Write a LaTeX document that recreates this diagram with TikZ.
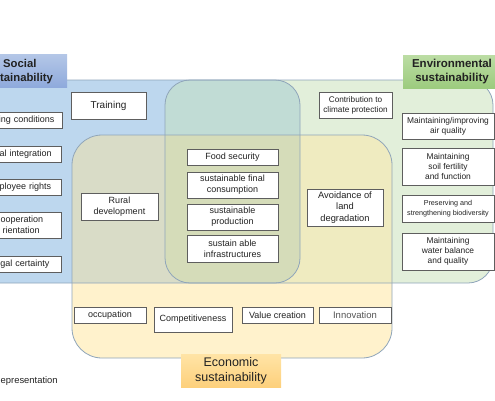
\documentclass[tikz,border=0pt]{standalone}
\usepackage{fontspec}
\setmainfont{Liberation Sans}
\definecolor{cB}{HTML}{BDD7EE}
\definecolor{cG}{HTML}{E2EFDA}
\definecolor{cBG}{HTML}{C1DCD5}
\definecolor{cY}{HTML}{FFF2CC}
\definecolor{cBY}{HTML}{D9DCC7}
\definecolor{cGY}{HTML}{EFEBC0}
\definecolor{cBGY}{HTML}{D5DCB9}
\definecolor{edgec}{HTML}{8FA5BA}
\definecolor{boxc}{HTML}{5E5E5E}
\definecolor{txtc}{HTML}{222222}
\definecolor{innoc}{HTML}{555555}
\definecolor{sTop}{HTML}{B4C7E7}
\definecolor{sBot}{HTML}{8FAADC}
\definecolor{eTop}{HTML}{BCDDA4}
\definecolor{eBot}{HTML}{9CCB7E}
\definecolor{oTop}{HTML}{FFE4A6}
\definecolor{oBot}{HTML}{FDD07C}
\tikzset{
  region/.style={draw=edgec, line width=0.8pt},
  item/.style={draw=boxc, fill=white, line width=0.9pt, inner sep=0pt, align=center,
    text=txtc, font=\fontsize{9}{11}\selectfont},
  leftitem/.style={draw=boxc, fill=white, line width=0.9pt, inner ysep=0pt, anchor=east,
    text width=80pt, align=right, text=txtc, font=\fontsize{9}{11}\selectfont},
  header/.style={inner sep=0pt, text=txtc, align=center},
}
\begin{document}
\begin{tikzpicture}[x=1pt,y=-1pt]
\useasboundingbox (0,0) rectangle (495,400);
\begin{scope}
\clip (0,0) rectangle (495,400);
% ---------- region fills ----------
\fill[cB, rounded corners=25pt] (-40,80) rectangle (300,283);
\fill[cG, rounded corners=25pt] (165,80) rectangle (493,283);
\begin{scope}
  \clip[rounded corners=25pt] (-40,80) rectangle (300,283);
  \fill[cBG, rounded corners=25pt] (165,80) rectangle (493,283);
\end{scope}
\fill[cY, rounded corners=30pt] (72,135) rectangle (392,358);
\begin{scope}
  \clip[rounded corners=30pt] (72,135) rectangle (392,358);
  \fill[cBY, rounded corners=25pt] (-40,80) rectangle (300,283);
  \fill[cGY, rounded corners=25pt] (165,80) rectangle (493,283);
  \clip[rounded corners=25pt] (-40,80) rectangle (300,283);
  \fill[cBGY, rounded corners=25pt] (165,80) rectangle (493,283);
\end{scope}
% ---------- region outlines ----------
\draw[region, rounded corners=25pt] (-40,80) rectangle (300,283);
\draw[region, rounded corners=25pt] (165,80) rectangle (493,283);
\draw[region, rounded corners=30pt] (72,135) rectangle (392,358);

% ---------- headers ----------
\shade[top color=sTop, bottom color=sBot] (-30,54) rectangle (67,87);
\node[header, anchor=north west, align=left, font=\bfseries\fontsize{11.3}{13.7}\selectfont]
  (hsoc) at (0,59) {\hspace*{3pt}Social\\tainability};
\shade[top color=eTop, bottom color=eBot] (403,55) rectangle (497,88);
\node[header, font=\bfseries\fontsize{11.5}{14}\selectfont] (henv) at (452,71.5)
  {Environmental\\sustainability};
\shade[top color=oTop, bottom color=oBot] (181,354) rectangle (281,387);
\node[header, font=\fontsize{12.5}{15}\selectfont] (heco) at (231,370.5)
  {Economic\\sustainability};

% ---------- social column (cut at the left edge) ----------
\node[leftitem, inner xsep=7.7pt, minimum height=16pt] (s1) at (62.5,120) {ing conditions};
\node[leftitem, inner xsep=9.3pt, minimum height=16pt] (s2) at (61.5,154) {al integration};
\node[leftitem, inner xsep=9.8pt, minimum height=16pt] (s3) at (61.5,187) {ployee rights};
\node[leftitem, inner xsep=18pt, minimum height=26pt] (s4) at (61.5,225) {ooperation\\rientation\kern3.4pt};
\node[leftitem, inner xsep=11.7pt, minimum height=16pt] (s5) at (61.5,264) {gal certainty};

\node[item, minimum width=75pt, minimum height=27pt, font=\fontsize{10}{12}\selectfont] (train) at (108.5,105.5) {Training};
\node[item, minimum width=77pt, minimum height=27pt] (rural) at (119.5,206.5) {Rural\\development};

% ---------- centre ----------
\node[item, minimum width=91pt, minimum height=16pt] (food) at (232.5,157) {Food security};
\node[item, minimum width=91pt, minimum height=26pt] (cons) at (232.5,185) {sustainable final\\consumption};
\node[item, minimum width=91pt, minimum height=26pt] (prod) at (232.5,217) {sustainable\\production};
\node[item, minimum width=91pt, minimum height=27pt] (infra) at (232.5,248.5) {sustain able\\infrastructures};

% ---------- environmental ----------
\node[item, minimum width=73pt, minimum height=26pt, font=\fontsize{8.2}{10}\selectfont] (clim) at (355.5,105) {Contribution to\\climate protection};
\node[item, minimum width=76pt, minimum height=37pt, font=\fontsize{9.3}{11.2}\selectfont] (avoid) at (345,207.5) {Avoidance of\\land\\degradation};
\node[item, minimum width=92pt, minimum height=26pt, font=\fontsize{8.4}{10}\selectfont] (air) at (448,126) {Maintaining/improving\\air quality};
\node[item, minimum width=92pt, minimum height=37pt, font=\fontsize{8.4}{9.8}\selectfont] (soil) at (448,166.5) {Maintaining\\soil fertility\\and function};
\node[item, minimum width=92pt, minimum height=27pt, font=\fontsize{7.2}{9.5}\selectfont] (bio) at (448,208.5) {Preserving and\\strengthening biodiversity};
\node[item, minimum width=92pt, minimum height=37pt, font=\fontsize{8.4}{9.8}\selectfont] (water) at (448,251.5) {Maintaining\\water balance\\and quality};

% ---------- economic ----------
\node[item, minimum width=72pt, minimum height=16pt] (occ) at (110,315) {occupation};
\node[item, minimum width=78pt, minimum height=25pt] (comp) at (193,319.5) {Competitiveness};
\node[item, minimum width=71pt, minimum height=16pt] (val) at (277.5,315) {Value creation};
\node[item, minimum width=72pt, minimum height=16pt, text=innoc, font=\fontsize{9.5}{11}\selectfont] (inno) at (355,315) {Innovation};

% ---------- bottom-left text ----------
\node[anchor=west, inner sep=0pt, text=txtc, font=\fontsize{9.4}{11}\selectfont] (repr) at (0.5,381) {epresentation};
\end{scope}
\end{tikzpicture}
\end{document}
